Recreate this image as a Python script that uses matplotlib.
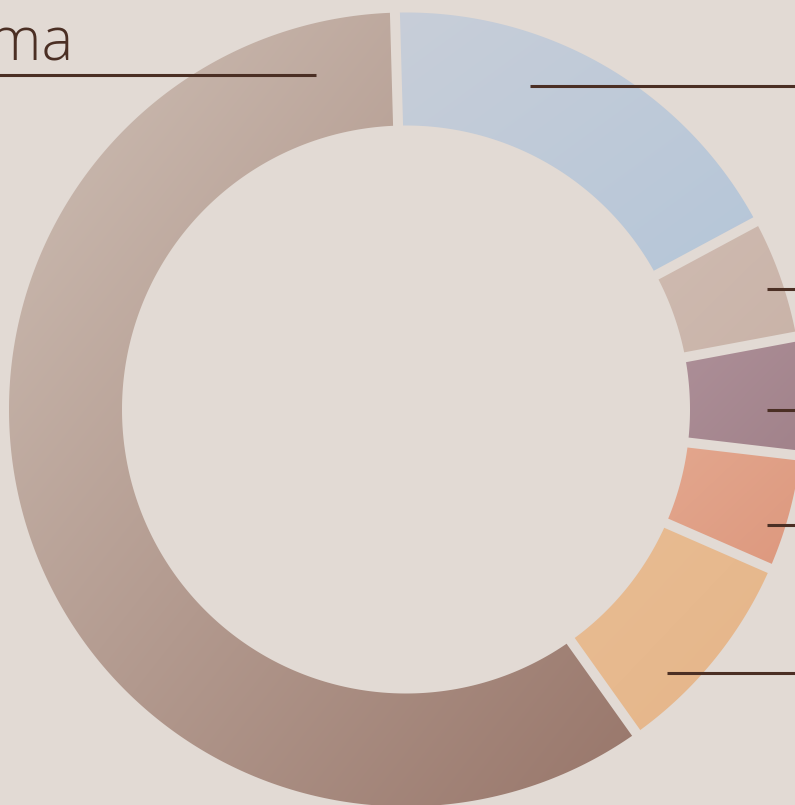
import numpy as np
import matplotlib
matplotlib.use("Agg")
import matplotlib.pyplot as plt
from matplotlib.path import Path
from matplotlib.patches import PathPatch
from matplotlib.colors import to_rgb

# ---- data ----
categories = ["Comedy", "Horror", "Romance", "Thriller", "Action", "Drama"]
shares = [17.6, 4.9, 4.8, 4.7, 8.6, 59.4]
colors_light = ["#c8ced8", "#cfbbb1", "#ad8f98", "#e3a78e", "#e9bd93", "#cfc0b6"]
colors_dark = ["#b5c6d9", "#c9b3a8", "#a1828a", "#dd987e", "#e5b589", "#98766a"]

# ---- layout (pixel space) ----
W, H = 795, 805
cx, cy = 406, 409.5
R_out, R_in = 397, 284
gap_px = 10
start_deg = -1.6
bg = "#e2dad4"
ink = "#4b2f24"
# leader line layout: (x_start, x_end, y)
leaders = [(530, 800, 86), (767, 800, 289), (767, 800, 410), (767, 800, 525),
           (667, 800, 673), (316, -5, 75)]

fig = plt.figure(figsize=(W / 100, H / 100), dpi=100)
fig.patch.set_facecolor(bg)
ax = fig.add_axes([0, 0, 1, 1])
ax.set_facecolor(bg)
ax.axis("off")

total = sum(shares)
angles = np.concatenate([[0], np.cumsum(shares)]) / total * 360 + start_deg


def pt(r, a):
    t = np.deg2rad(a)
    return cx + r * np.sin(t), cy - r * np.cos(t)


for i in range(len(shares)):
    a0, a1 = angles[i], angles[i + 1]
    th = np.linspace(a0, a1, 300)
    xo, yo = pt(R_out, th)
    xi, yi = pt(R_in, th[::-1])
    xs = np.concatenate([xo, xi])
    ys = np.concatenate([yo, yi])
    verts = np.vstack([np.column_stack([xs, ys]), [xs[0], ys[0]]])
    codes = [Path.MOVETO] + [Path.LINETO] * (len(xs) - 1) + [Path.CLOSEPOLY]
    path = Path(verts, codes)
    patch = PathPatch(path, facecolor="none", edgecolor="none")
    ax.add_patch(patch)
    x0, x1 = xs.min(), xs.max()
    y0, y1 = ys.min(), ys.max()
    pad = 30
    n = 300
    gx, gy = np.meshgrid(np.linspace(x0 - pad, x1 + pad, n),
                         np.linspace(y0 - pad, y1 + pad, n))
    t = ((gx - x0) / (x1 - x0) + (gy - y0) / (y1 - y0)) / 2
    t = np.clip(t, 0, 1)
    c0 = np.array(to_rgb(colors_light[i]))
    c1 = np.array(to_rgb(colors_dark[i]))
    img = c0[None, None, :] * (1 - t[..., None]) + c1[None, None, :] * t[..., None]
    im = ax.imshow(img, extent=(x0 - pad, x1 + pad, y1 + pad, y0 - pad),
                   origin="upper", interpolation="bilinear", zorder=1,
                   aspect="auto")
    im.set_clip_path(patch)

# gaps between segments
for a in angles[:-1]:
    gx0, gy0 = pt(R_in - 3, a)
    gx1, gy1 = pt(R_out + 3, a)
    ax.plot([gx0, gx1], [gy0, gy1], color=bg, lw=gap_px * 0.72,
            solid_capstyle="butt", zorder=2)

ax.set_xlim(0, W)
ax.set_ylim(H, 0)

for (xs_, xe_, y_) in leaders:
    ax.plot([xs_, xe_], [y_, y_], color=ink, lw=2.2, solid_capstyle="butt", zorder=3)

ax.text(73, 59, categories[-1], ha="right", va="baseline", fontsize=43,
        color=ink, family="Open Sans", fontweight=300, zorder=4)

fig.savefig("out.png", dpi=100, facecolor=bg)
